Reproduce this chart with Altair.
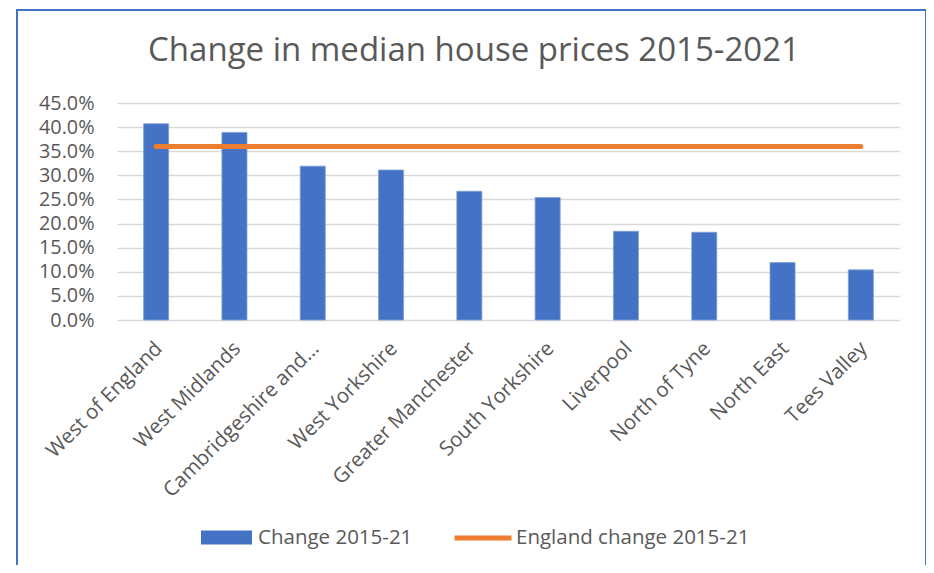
import altair as alt
import pandas as pd

FONT = "Open Sans"
GREY = "#595959"

title_text = "Change in median house prices 2015-2021"
regions = [
    "West of England", "West Midlands", "Cambridgeshire and...", "West Yorkshire",
    "Greater Manchester", "South Yorkshire", "Liverpool", "North of Tyne",
    "North East", "Tees Valley",
]
change = [0.407, 0.389, 0.319, 0.311, 0.267, 0.254, 0.184, 0.182, 0.119, 0.104]
england = [0.36, 0.36, 0.36, 0.36, 0.36, 0.36, 0.36, 0.36, 0.36, 0.36]
y_ticks = [0.0, 0.05, 0.10, 0.15, 0.20, 0.25, 0.30, 0.35, 0.40, 0.45]

df = pd.DataFrame({"Region": regions, "Change": change, "England": england})

x_axis = alt.Axis(
    labelAngle=-45, labelAlign="right", labelBaseline="top",
    labelFont=FONT, labelFontSize=20.5, labelColor=GREY,
    labelPadding=18, labelOffset=-4, domain=False, ticks=False, grid=False,
    labelOverlap=False, labelLimit=400, title=None,
)
x_scale = alt.Scale(paddingInner=0.68, paddingOuter=0.34)

y_axis = alt.Axis(
    format=".1%", values=y_ticks, title=None, domain=False, ticks=False,
    labelFont=FONT, labelFontSize=19.8, labelColor=GREY, labelPadding=23,
    labelOverlap=False, gridColor="#D9D9D9", gridWidth=1.3,
)
y_scale = alt.Scale(domain=[0, 0.45])

base = alt.Chart(df)

bars = base.mark_bar(color="#4472C4", stroke="#7F9FD6", strokeWidth=0.8).transform_calculate(
    series="'Change 2015-21'"
).encode(
    x=alt.X("Region:N", sort=regions, scale=x_scale, axis=x_axis),
    y=alt.Y("Change:Q", scale=y_scale, axis=y_axis),
    color=alt.Color(
        "series:N",
        scale=alt.Scale(range=["#4472C4"]),
        legend=alt.Legend(
            title=None, orient="none", legendX=84, legendY=409,
            symbolType="M-1,-0.275L1,-0.275L1,0.275L-1,0.275Z",
            symbolSize=2601, symbolStrokeWidth=0, symbolOpacity=1,
            labelFont=FONT, labelFontSize=20.5, labelColor=GREY,
            labelOffset=6, padding=0, labelLimit=400,
        ),
    ),
)

line = base.mark_line(strokeWidth=5, strokeCap="round").transform_calculate(
    series="'England change 2015-21'"
).encode(
    x=alt.X("Region:N", sort=regions, scale=x_scale, axis=x_axis),
    y=alt.Y("England:Q", scale=y_scale, axis=y_axis),
    color=alt.Color(
        "series:N",
        scale=alt.Scale(range=["#ED7D31"]),
        legend=alt.Legend(
            title=None, orient="none", legendX=335, legendY=404,
            symbolType="stroke", symbolSize=3249, symbolStrokeWidth=5,
            labelFont=FONT, labelFontSize=20.5, labelColor=GREY,
            labelOffset=2, padding=0, labelLimit=400,
        ),
    ),
)

one = alt.Chart(pd.DataFrame({"t": [title_text]}))

title = one.mark_text(
    font=FONT, fontSize=33, color=GREY, align="center", baseline="alphabetic"
).encode(text="t:N", x=alt.value(357), y=alt.value(-42))

frame = one.mark_rect(
    filled=False, stroke="#4472C4", strokeWidth=2
).encode(
    x=alt.value(-100), x2=alt.value(809), y=alt.value(-93), y2=alt.value(500)
)

chart = alt.layer(bars, line, title, frame).resolve_scale(color="independent").properties(
    width=783, height=217,
    padding={"left": 109, "top": 95, "right": 26, "bottom": 245},
    autosize=alt.AutoSizeParams(type="none"),
).configure_view(stroke=None).configure_axis(labelOverlap=False)

chart.save("out.html", embed_options={"renderer": "svg", "actions": False})
